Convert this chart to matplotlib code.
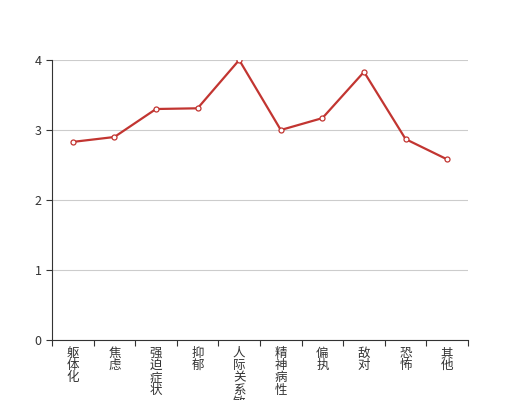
import matplotlib
matplotlib.use("Agg")
import matplotlib.pyplot as plt
import numpy as np

plt.rcParams['font.family'] = ['Noto Sans CJK SC', 'DejaVu Sans']

categories = ["躯体化", "焦虑", "强迫症状", "抑郁", "人际关系敏感",
              "精神病性", "偏执", "敌对", "恐怖", "其他"]
scores = [2.83, 2.90, 3.30, 3.31, 4.00, 3.00, 3.17, 3.83, 2.87, 2.58]
y_ticks = [0, 1, 2, 3, 4]

fig = plt.figure(figsize=(5.2, 4.0), dpi=100)
ax = fig.add_axes([0.1, 0.15, 0.8, 0.70])

x = np.arange(len(categories))
ax.plot(x, scores, color="#c23531", linewidth=1.6, marker="o", markersize=3.6,
        markerfacecolor="white", markeredgecolor="#c23531", markeredgewidth=0.9,
        zorder=3)

ax.set_xlim(-0.5, len(categories) - 0.5)
ax.set_ylim(0, 4)
ax.set_yticks(y_ticks)
ax.yaxis.grid(True, color="#cccccc", linewidth=0.8)
ax.set_axisbelow(True)

for s in ["top", "right"]:
    ax.spines[s].set_visible(False)
ax.spines["left"].set_color("#333333")
ax.spines["bottom"].set_color("#333333")

# ticks at band boundaries, labels in band centres
ax.set_xticks(np.arange(len(categories) + 1) - 0.5)
ax.set_xticklabels([])
ax.tick_params(axis="x", direction="out", length=4, color="#333333")
ax.tick_params(axis="y", direction="out", length=4, color="#333333",
               labelcolor="#333333", labelsize=9)

for i, name in enumerate(categories):
    ax.annotate("\n".join(name), xy=(i, 0), xycoords=("data", "axes fraction"),
                xytext=(0, -5), textcoords="offset points", ha="center", va="top",
                fontsize=9, color="#333333", linespacing=0.92,
                annotation_clip=False)

fig.savefig("out.png", dpi=100)
